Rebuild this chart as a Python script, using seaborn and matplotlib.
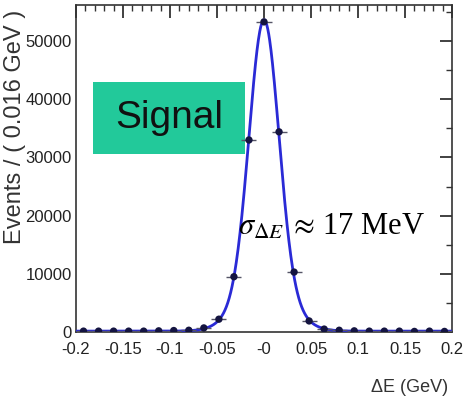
import numpy as np
import pandas as pd
import seaborn as sns
import matplotlib
matplotlib.use("Agg")
import matplotlib.pyplot as plt
from matplotlib.patches import Rectangle
from matplotlib.ticker import MultipleLocator

# ---- data ----
bin_centers = [-0.192, -0.176, -0.160, -0.144, -0.128, -0.112, -0.096, -0.080, -0.064,
               -0.048, -0.032, -0.016, 0.000, 0.016, 0.032, 0.048, 0.064, 0.080,
               0.096, 0.112, 0.128, 0.144, 0.160, 0.176, 0.192]
events = [150, 150, 150, 150, 150, 200, 250, 300, 700,
          2200, 9500, 33000, 53300, 34400, 10300, 1900, 500, 300,
          200, 150, 150, 150, 100, 150, 100]
bin_halfwidth = 0.008
# fit (double Gaussian) parameters
fit_core_amp, fit_core_sigma = 45000, 0.0155
fit_tail_amp, fit_tail_sigma = 8500, 0.026
fit_bkg = 150
fit_mean = 0.0

xtick_vals = [-0.2, -0.15, -0.1, -0.05, 0.0, 0.05, 0.1, 0.15, 0.2]
xtick_labels = ["-0.2", "-0.15", "-0.1", "-0.05", "-0", "0.05", "0.1", "0.15", "0.2"]
ytick_vals = [0, 10000, 20000, 30000, 40000, 50000]
ytick_labels = ["0", "10000", "20000", "30000", "40000", "50000"]

sns.set_theme(style="white")
plt.rcParams['font.family'] = ['Liberation Sans', 'DejaVu Sans']
plt.rcParams['mathtext.fontset'] = 'stix'

fig = plt.figure(figsize=(4.71, 4.05), dpi=100)
ax = fig.add_axes([76/471, 1-332/405, 376/471, 327/405])

# fit curve
xf = np.linspace(-0.2, 0.2, 801)
yf = (fit_core_amp*np.exp(-0.5*((xf-fit_mean)/fit_core_sigma)**2)
      + fit_tail_amp*np.exp(-0.5*((xf-fit_mean)/fit_tail_sigma)**2) + fit_bkg)
curve = pd.DataFrame({"x": xf, "y": yf})
sns.lineplot(data=curve, x="x", y="y", ax=ax, color="#2A2AD6", lw=2.0, zorder=3)

# data points
df = pd.DataFrame({"x": bin_centers, "y": events})
yerr = np.sqrt(np.array(events))
ax.errorbar(df["x"], df["y"], xerr=bin_halfwidth, yerr=yerr, fmt="none",
            ecolor="#555566", elinewidth=1.0, zorder=4)
sns.scatterplot(data=df, x="x", y="y", ax=ax, color="#141440", s=28,
                edgecolor="none", zorder=5)

ax.set_xlim(-0.2, 0.2)
ax.set_ylim(0, 56200)
ax.set_xticks(xtick_vals)
ax.set_xticklabels(xtick_labels)
ax.set_yticks(ytick_vals)
ax.set_yticklabels(ytick_labels)
ax.xaxis.set_minor_locator(MultipleLocator(0.01))
ax.yaxis.set_minor_locator(MultipleLocator(5000))
ax.tick_params(axis="both", which="both", direction="in", top=True, right=True,
               colors="#333333", labelcolor="#222222")
ax.tick_params(axis="both", which="major", length=9, width=1.3, labelsize=12)
ax.tick_params(axis="x", which="major", pad=7)
ax.tick_params(axis="y", which="major", pad=3)
ax.tick_params(axis="both", which="minor", length=4.5, width=1.0)
ax.set_xlabel("")
ax.set_ylabel("")
for s in ax.spines.values():
    s.set_color("#333333")
    s.set_linewidth(1.2)

# Signal box
ax.add_patch(Rectangle((0.045, 0.544), 0.404, 0.221, transform=ax.transAxes,
                       facecolor="#22C99A", edgecolor="none", zorder=2))
ax.text(0.247, 0.655, "Signal", transform=ax.transAxes, ha="center", va="center",
        fontsize=28, color="#111111", zorder=6)

# sigma annotation
ax.text(238/471, 1-227/405, r"$\sigma_{\Delta E}\;\approx\,$17 MeV", transform=fig.transFigure,
        ha="left", va="center", fontsize=22, color="black",
        family=["Liberation Serif", "DejaVu Serif"], zorder=6)

fig.text(15/471, 1-10/405, "Events / ( 0.016 GeV )", rotation=90, ha="center", va="top",
         fontsize=17, color="#333333")
fig.text(448/471, 1-388/405, "ΔE (GeV)", ha="right", va="center", fontsize=13,
         color="#333333")

fig.savefig("out.png", dpi=100)
